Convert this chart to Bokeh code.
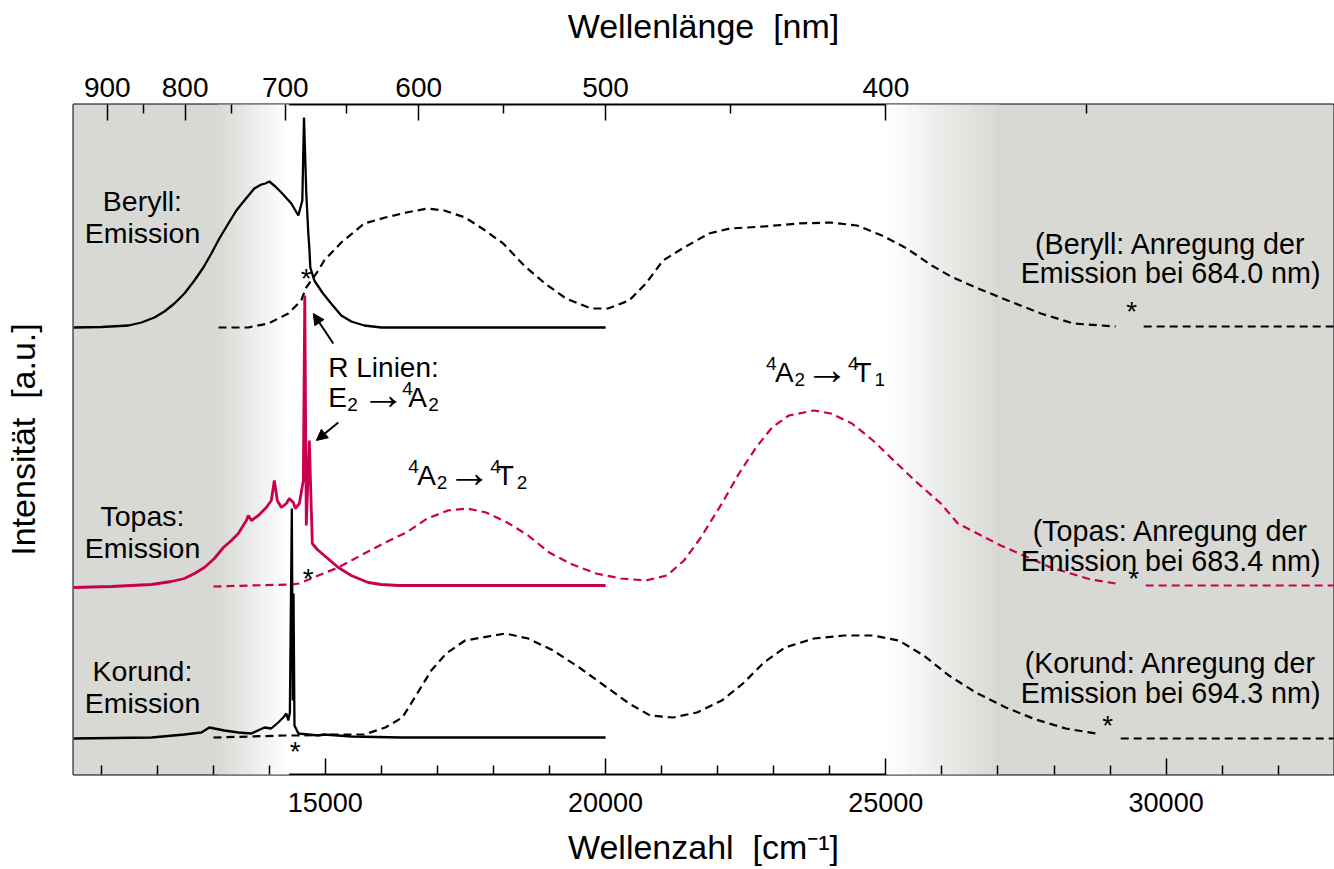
import numpy as np
from bokeh.plotting import figure
from bokeh.models import (Range1d, LinearAxis, FixedTicker, CustomJSTickFormatter,
                          Arrow, NormalHead)
from bokeh.core.properties import value
from bokeh.embed import file_html
from bokeh.resources import INLINE

nan = np.nan
FONT = "Liberation Sans"
CRIMSON = "#c8004f"
GRAY = (216, 217, 212)
NBSP = "\u00a0"

# ---------------- data (x: Wellenzahl cm^-1, y: Intensität a.u.) ----------------
beryll_em_x = [10510, 11007, 11489, 11720, 11952, 12130, 12308, 12487, 12665, 12825, 12968,
               13110, 13271, 13413, 13556, 13645, 13734, 13859, 13930, 14002, 14109, 14216,
               14394, 14519, 14590, 14620, 14661, 14697, 14715, 14733, 14804, 14947, 15089,
               15285, 15464, 15695, 15998, 16444, 20000]
beryll_em_y = [447, 447.5, 449, 452, 457, 463, 471, 481, 494, 507, 521, 536, 551, 564, 574,
               580, 586, 590, 591, 593, 588, 582, 571, 559, 574, 657, 581, 541, 527, 507,
               494, 482, 472, 459, 453, 449, 447, 447, 447]

beryll_ex_x = [13095, 13625, 13985, 14340, 14570, 14660, 14875, 14980, 15285, 15695, 16070,
               16445, 16820, 17120, 17495, 17800, 18175, 18545, 18920, 19295, 19740, 20045,
               20420, 20720, 21025, 21400, 21845, 22220, 22825, 23430, 24020, 24485, 24930,
               25375, 25820, 26160, 26605, 27175, 27765, 28350, 29100, nan, 29600, 33000]
beryll_ex_y = [447, 447, 451, 461, 474, 487, 504, 514, 532, 551, 557, 562, 566, 564, 557,
               546, 531, 509, 491, 476, 466, 466, 474, 491, 514, 527, 541, 546, 548, 551,
               552, 549, 539, 526, 509, 498, 487, 474, 461, 451, 448, nan, 448, 448]

topas_em_x = [10508, 11185, 11898, 12255, 12487, 12665, 12843, 13021, 13182, 13325, 13449,
              13503, 13592, 13627, 13681, 13806, 13948, 14037, 14091, 14144, 14216, 14305,
              14358, 14430, 14465, 14537, 14608, 14634, 14661, 14715, 14768, 14857, 14982,
              15107, 15232, 15463, 15766, 15998, 16300, 20000]
topas_em_y = [187, 188, 190, 193, 196, 201, 207, 216, 227, 234, 241, 246, 254, 259, 254,
              259, 267, 274, 294, 274, 267, 271, 276, 272, 266, 271, 294, 479, 249, 334,
              231, 225, 219, 213, 207, 199, 192, 190, 189, 189]

topas_ex_x = [13005, 13680, 14395, 14535, 14875, 15232, 15695, 16070, 16445, 16820, 17190,
              17530, 17870, 18245, 18620, 18995, 19365, 19830, 20275, 20720, 21095, 21400,
              21700, 22075, 22380, 22685, 22970, 23270, 23715, 24020, 24395, 24770, 25140,
              25515, 25980, 26285, 27050, 27940, 28655, 29100, nan, 29635, 33000]
topas_ex_y = [188, 189, 190, 191, 199, 207, 221, 232, 242, 256, 264, 266, 262, 252, 239,
              222, 211, 201, 196, 194, 199, 214, 237, 271, 301, 327, 347, 359, 364, 361,
              351, 334, 314, 294, 271, 251, 229, 207, 195, 191, nan, 189, 189]

korund_em_x = [10508, 11900, 12485, 12790, 12930, 13020, 13200, 13450, 13680, 13915, 14035,
               14160, 14250, 14305, 14340, 14368, 14403, 14420, 14433, 14450, 14520, 14875,
               14980, 15465, 16355, 20000]
korund_em_y = [36, 37, 40, 42, 47, 46, 44, 42, 41, 47, 46, 52, 57, 61, 54, 62, 266, 74,
               181, 49, 41, 39, 40, 38, 37, 37]

korund_ex_x = [13005, 13680, 14270, 14570, 15160, 15695, 16070, 16375, 16640, 16890, 17155,
               17495, 17800, 18210, 18620, 19065, 19530, 19975, 20420, 20795, 21205, 21630,
               22075, 22450, 22825, 23200, 23715, 24250, 24770, 25230, 25675, 26125, 26605,
               27140, 27675, 28210, 28745, nan, 29190, 33000]
korund_ex_y = [37, 38, 39, 39, 40, 40, 47, 57, 81, 104, 121, 134, 137, 141, 136, 124, 107,
               89, 71, 59, 57, 62, 74, 91, 112, 127, 136, 139, 139, 134, 119, 99, 82, 67,
               55, 46, 41, nan, 36, 36]

# asterisks (x, y)
star_x = [14661, 14697, 14465, 29385, 29420, 28957]
star_y = [499, 199, 26, 466, 199, 52]

# axis ticks
wn_major = [15000, 20000, 25000, 30000]
wn_minor = [w for w in range(11000, 33000, 1000) if w % 5000]
nm_major = [900, 800, 700, 600, 500, 400]
nm_minor = [850, 750, 650, 550, 450, 350]

# shaded (non-visible) spectral regions: solid gray / fade limits in cm^-1
IR_SOLID_END, IR_FADE_END = 13060, 14340
UV_FADE_START, UV_SOLID_START = 25000, 27000

X0, X1 = 10508, 32986
Y0, Y1 = 0, 670

# ---------------- figure ----------------
p = figure(width=1334, height=869, x_range=Range1d(X0, X1), y_range=Range1d(Y0, Y1),
           output_backend="svg", toolbar_location=None,
           min_border_left=72, min_border_right=1, min_border_top=104, min_border_bottom=95)
p.grid.visible = False
p.outline_line_color = "black"
p.outline_line_width = 2
p.background_fill_color = "white"
p.border_fill_color = "white"


def hexcol(f):
    c = [int(round(255 + (g - 255) * f)) for g in GRAY]
    return "#%02x%02x%02x" % tuple(c)


# background shading
p.quad(left=[X0 - 100, UV_SOLID_START], right=[IR_SOLID_END + 5, X1 + 100],
       bottom=Y0 - 10, top=Y1 + 10, fill_color=hexcol(1.0), line_color=None)


def fade(xa, xb, gray_at_a, n):
    edges = np.linspace(xa, xb, n + 1)
    step = edges[1] - edges[0]
    cols = []
    for i in range(n):
        t = (i + 0.5) / n
        cols.append(hexcol(1 - t if gray_at_a else t))
    p.quad(left=edges[:-1], right=edges[1:] + step * 0.6, bottom=Y0 - 10, top=Y1 + 10,
           fill_color=cols, line_color=None)


fade(IR_SOLID_END, IR_FADE_END, True, 40)
fade(UV_FADE_START, UV_SOLID_START, False, 60)

# excitation spectra (dashed)
p.line(beryll_ex_x, beryll_ex_y, line_color="black", line_width=2.2, line_dash="8 5")
p.line(topas_ex_x, topas_ex_y, line_color=CRIMSON, line_width=2.2, line_dash="8 5")
p.line(korund_ex_x, korund_ex_y, line_color="black", line_width=2.2, line_dash="8 5")
# emission spectra (solid)
p.line(beryll_em_x, beryll_em_y, line_color="black", line_width=2.3)
p.line(korund_em_x, korund_em_y, line_color="black", line_width=2.3)
p.line(topas_em_x, topas_em_y, line_color=CRIMSON, line_width=2.8)

# asterisks
p.text(x=star_x, y=star_y, text=["*"] * len(star_x), text_align="center",
       text_baseline="middle", y_offset=3, text_font=value(FONT),
       text_font_size=value("28px"), text_color="black")


def txt(x, y, s, size=28, align="left", dx=0, dy=0):
    p.text(x=[x], y=[y], text=[s], x_offset=dx, y_offset=dy, text_align=align,
           text_baseline="middle", text_font=value(FONT),
           text_font_size=value(f"{size}px"), text_color="black")


ARROW_SIZE = 44
ARROW_DY = -4

# left labels
XL = 11738
for (y1, y2, name) in [(574, 542, "Beryll:"), (259, 227, "Topas:"), (104, 72, "Korund:")]:
    txt(XL, y1, name, size=28.5, align="center")
    txt(XL, y2, "Emission", size=28.5, align="center")

# right labels
XR = 30080
for (y1, y2, name, nm) in [(531, 502, "Beryll", "684.0"), (244, 214, "Topas", "683.4"),
                           (112, 82, "Korund", "694.3")]:
    txt(XR, y1, f"({name}: Anregung der", size=28.7, align="center")
    txt(XR, y2, f"Emission bei {nm} nm)", size=28.7, align="center")

# R lines annotation
txt(15053, 407, "R Linien:")
RX, RY = 15053, 377
txt(RX, RY, "E")
txt(RX, RY, "2", size=19, dx=19, dy=7)
txt(RX, RY, "\u2192", size=ARROW_SIZE, dx=33, dy=ARROW_DY)
txt(RX, RY, "4", size=19, dx=74, dy=-9)
txt(RX, RY, "A", dx=80)
txt(RX, RY, "2", size=19, dx=100, dy=7)


def transition(x0, y0, last):
    txt(x0, y0, "4", size=19, dx=0, dy=-9)
    txt(x0, y0, "A", dx=9)
    txt(x0, y0, "2", size=19, dx=28.5, dy=7)
    txt(x0, y0, "\u2192", size=ARROW_SIZE, dx=39, dy=ARROW_DY)
    txt(x0, y0, "4", size=19, dx=82, dy=-9)
    txt(x0, y0, "T", dx=88.5)
    txt(x0, y0, last, size=19, dx=108.5, dy=7)


transition(16479, 299, "2")
transition(22861, 402, "1")

# arrows to R lines
p.add_layout(Arrow(end=NormalHead(size=11, fill_color="black", line_color="black"),
                   x_start=15143, y_start=431, x_end=14786, y_end=461,
                   line_width=2, line_color="black"))
p.add_layout(Arrow(end=NormalHead(size=11, fill_color="black", line_color="black"),
                   x_start=15232, y_start=352, x_end=14840, y_end=334,
                   line_width=2, line_color="black"))


# ---------------- axes ----------------
def style_x(ax, label, tick_size, tick_standoff, label_standoff):
    ax.major_tick_in = 16
    ax.major_tick_out = 0
    ax.minor_tick_in = 9
    ax.minor_tick_out = 0
    ax.major_tick_line_width = 1.5
    ax.minor_tick_line_width = 1.5
    ax.major_tick_line_color = "black"
    ax.minor_tick_line_color = "black"
    ax.axis_line_color = None
    ax.major_label_text_font = FONT
    ax.major_label_text_font_size = tick_size
    ax.major_label_text_color = "black"
    ax.major_label_standoff = tick_standoff
    ax.axis_label = label
    ax.axis_label_text_font = FONT
    ax.axis_label_text_font_size = "34px"
    ax.axis_label_text_font_style = "normal"
    ax.axis_label_text_color = "black"
    ax.axis_label_standoff = label_standoff


xb = p.xaxis[0]
xb.ticker = FixedTicker(ticks=wn_major, minor_ticks=wn_minor)
xb.formatter = CustomJSTickFormatter(code="return tick.toFixed(0);")
style_x(xb, "Wellenzahl " + NBSP + "[cm\u207b\u00b9]", "27px", 18, 13)

xt = LinearAxis(ticker=FixedTicker(ticks=[1e7 / l for l in nm_major],
                                   minor_ticks=[1e7 / l for l in nm_minor]),
                formatter=CustomJSTickFormatter(code="return Math.round(1e7 / tick).toString();"))
style_x(xt, "Wellenl\u00e4nge " + NBSP + "[nm]", "28px", 8, 30)
p.add_layout(xt, "above")

ya = p.yaxis[0]
ya.ticker = FixedTicker(ticks=[])
ya.major_label_text_font_size = "0px"
ya.major_label_standoff = 0
ya.major_tick_in = 0
ya.major_tick_out = 0
ya.minor_tick_in = 0
ya.minor_tick_out = 0
ya.axis_line_color = None
ya.axis_label = "Intensit\u00e4t " + NBSP + "[a.u.]"
ya.axis_label_text_font = FONT
ya.axis_label_text_font_size = "34px"
ya.axis_label_text_font_style = "normal"
ya.axis_label_text_color = "black"
ya.axis_label_standoff = 32

open("out.html", "w").write(file_html(p, INLINE))
